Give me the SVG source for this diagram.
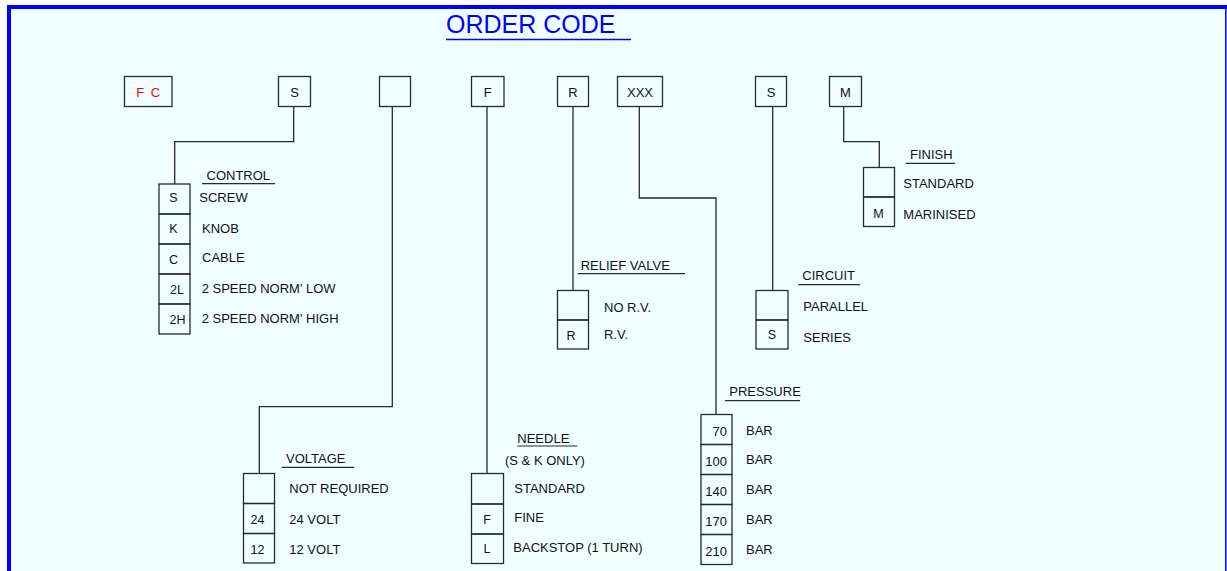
<svg xmlns="http://www.w3.org/2000/svg" width="1227" height="571" viewBox="0 0 1227 571">
<style>
.bx{fill:none;stroke:#2a2a2a;stroke-width:1.3}
.ln{fill:none;stroke:#2a2a2a;stroke-width:1.3}
.ul{stroke:#2a2a2a;stroke-width:1.2}
text{font-family:"Liberation Sans",Arial,sans-serif;fill:#111}
.lb{font-size:13px}
.cl{font-size:12.5px;text-anchor:middle}
.tp{font-size:13px;text-anchor:middle}
.pr{font-size:13px;text-anchor:end}
</style>
<rect x="0" y="0" width="1227" height="571" fill="#ffffff"/>
<rect x="9" y="7" width="1217" height="570" fill="#f0ffff"/>
<g id="border">
<line x1="9" y1="5" x2="9" y2="571" stroke="#0000ff" stroke-width="4"/>
<line x1="7" y1="7" x2="1227" y2="7" stroke="#0000ff" stroke-width="4"/>
<line x1="1225.8" y1="7" x2="1225.8" y2="571" stroke="#0000ff" stroke-width="1.5"/>
</g>
<g id="title">
<text x="446" y="32.5" style="font-size:25px;fill:#0000ff">ORDER CODE</text>
<line x1="446" y1="39.5" x2="631" y2="39.5" stroke="#0000ff" stroke-width="1.3"/>
</g>
<g id="connectors">
<path class="ln" d="M293.7,106.5 V141.7 H174.7 V184"/>
<path class="ln" d="M392.3,106.5 V406.7 H259.3 V473.5"/>
<path class="ln" d="M487,106.5 V473.5"/>
<path class="ln" d="M573,106.5 V290.5"/>
<path class="ln" d="M639.3,106.5 V198 H716 V414.5"/>
<path class="ln" d="M772.7,106.5 V290.5"/>
<path class="ln" d="M843.7,106.5 V141.7 H879.3 V167.5"/>
</g>
<g id="box-fc"><rect class="bx" x="124.5" y="76.5" width="47.5" height="30"/><text x="148.3" y="97" class="tp" style="fill:#ff0000;word-spacing:3px">F C</text></g>
<g id="box-s"><rect class="bx" x="278.5" y="76.5" width="32" height="30"/><text x="294.5" y="96.5" class="tp">S</text></g>
<g id="box-blank"><rect class="bx" x="379.5" y="76.5" width="31" height="30"/></g>
<g id="box-f"><rect class="bx" x="471.5" y="76.5" width="32.5" height="30"/><text x="487.7" y="96.5" class="tp">F</text></g>
<g id="box-r"><rect class="bx" x="557.5" y="76.5" width="31" height="30"/><text x="573" y="96.5" class="tp">R</text></g>
<g id="box-xxx"><rect class="bx" x="617.5" y="76.5" width="45" height="30"/><text x="640" y="96.5" class="tp">XXX</text></g>
<g id="box-s2"><rect class="bx" x="755.5" y="76.5" width="31" height="30"/><text x="771" y="96.5" class="tp">S</text></g>
<g id="box-m"><rect class="bx" x="829.5" y="76.5" width="32" height="30"/><text x="845.5" y="96.5" class="tp">M</text></g>
<g id="control">
<text x="206.5" y="180" class="lb">CONTROL</text>
<line class="ul" x1="202" y1="183.7" x2="275" y2="183.7"/>
<rect class="bx" x="159" y="184" width="31" height="30"/>
<rect class="bx" x="159" y="214" width="31" height="30"/>
<rect class="bx" x="159" y="244" width="31" height="30"/>
<rect class="bx" x="159" y="274" width="31" height="30"/>
<rect class="bx" x="159" y="304" width="31" height="30"/>
<text x="173.5" y="202.3" class="cl">S</text>
<text x="173.5" y="233.3" class="cl">K</text>
<text x="173.5" y="264.3" class="cl">C</text>
<text x="177" y="294.3" class="cl">2L</text>
<text x="177.5" y="324" class="cl">2H</text>
<text x="199.3" y="201.7" class="lb">SCREW</text>
<text x="202" y="232.7" class="lb">KNOB</text>
<text x="202" y="261.7" class="lb">CABLE</text>
<text x="201.7" y="292.7" class="lb">2 SPEED NORM' LOW</text>
<text x="201.7" y="322.7" class="lb">2 SPEED NORM' HIGH</text>
</g>
<g id="voltage">
<text x="286" y="463.3" class="lb">VOLTAGE</text>
<line class="ul" x1="281.7" y1="467.3" x2="354.3" y2="467.3"/>
<rect class="bx" x="243.5" y="473.5" width="31" height="30"/>
<rect class="bx" x="243.5" y="503.5" width="31" height="30"/>
<rect class="bx" x="243.5" y="533.5" width="31" height="29.5"/>
<text x="257.5" y="524.3" class="cl">24</text>
<text x="257.5" y="554" class="cl">12</text>
<text x="289.3" y="493.3" class="lb">NOT REQUIRED</text>
<text x="289.3" y="524.3" class="lb">24 VOLT</text>
<text x="289.3" y="554" class="lb">12 VOLT</text>
</g>
<g id="needle">
<text x="517.3" y="442.7" class="lb">NEEDLE</text>
<line class="ul" x1="517.3" y1="446" x2="577.3" y2="446"/>
<text x="505" y="465" class="lb">(S &amp; K ONLY)</text>
<rect class="bx" x="471.5" y="473.5" width="32" height="30.5"/>
<rect class="bx" x="471.5" y="504" width="32" height="30"/>
<rect class="bx" x="471.5" y="534" width="32" height="29.5"/>
<text x="487" y="524" class="cl">F</text>
<text x="487" y="552.7" class="cl">L</text>
<text x="514.3" y="493.3" class="lb">STANDARD</text>
<text x="514.3" y="522.3" class="lb">FINE</text>
<text x="513.3" y="551.7" class="lb">BACKSTOP (1 TURN)</text>
</g>
<g id="relief">
<text x="580.7" y="270" class="lb">RELIEF VALVE</text>
<line class="ul" x1="577.7" y1="273.7" x2="685" y2="273.7"/>
<rect class="bx" x="557.5" y="290.5" width="31" height="29.5"/>
<rect class="bx" x="557.5" y="320" width="31" height="29"/>
<text x="571" y="340" class="cl">R</text>
<text x="604" y="311.7" class="lb">NO R.V.</text>
<text x="604" y="339.3" class="lb">R.V.</text>
</g>
<g id="pressure">
<text x="729.3" y="395.7" class="lb">PRESSURE</text>
<line class="ul" x1="725" y1="400.7" x2="800" y2="400.7"/>
<rect class="bx" x="701" y="414.5" width="31" height="30"/>
<rect class="bx" x="701" y="444.5" width="31" height="30"/>
<rect class="bx" x="701" y="474.5" width="31" height="30"/>
<rect class="bx" x="701" y="504.5" width="31" height="30"/>
<rect class="bx" x="701" y="534.5" width="31" height="30"/>
<text x="727" y="436" class="pr">70</text>
<text x="727" y="466" class="pr">100</text>
<text x="727" y="496" class="pr">140</text>
<text x="727" y="526" class="pr">170</text>
<text x="727" y="556" class="pr">210</text>
<text x="746" y="435" class="lb">BAR</text>
<text x="746" y="464.3" class="lb">BAR</text>
<text x="746" y="494" class="lb">BAR</text>
<text x="746" y="524.3" class="lb">BAR</text>
<text x="746" y="554.3" class="lb">BAR</text>
</g>
<g id="circuit">
<text x="802.3" y="280" class="lb">CIRCUIT</text>
<line class="ul" x1="798.3" y1="284.7" x2="860" y2="284.7"/>
<rect class="bx" x="756" y="290.5" width="32" height="29.5"/>
<rect class="bx" x="756" y="320" width="32" height="29"/>
<text x="772" y="339" class="cl">S</text>
<text x="803.3" y="311" class="lb">PARALLEL</text>
<text x="803.3" y="341.7" class="lb">SERIES</text>
</g>
<g id="finish">
<text x="910" y="159.3" class="lb">FINISH</text>
<line class="ul" x1="905.7" y1="163.3" x2="955" y2="163.3"/>
<rect class="bx" x="863.5" y="167.5" width="31" height="29.5"/>
<rect class="bx" x="863.5" y="197" width="31" height="29.5"/>
<text x="878.5" y="218.3" class="cl">M</text>
<text x="903.3" y="188.3" class="lb">STANDARD</text>
<text x="903.3" y="219" class="lb">MARINISED</text>
</g>
</svg>
